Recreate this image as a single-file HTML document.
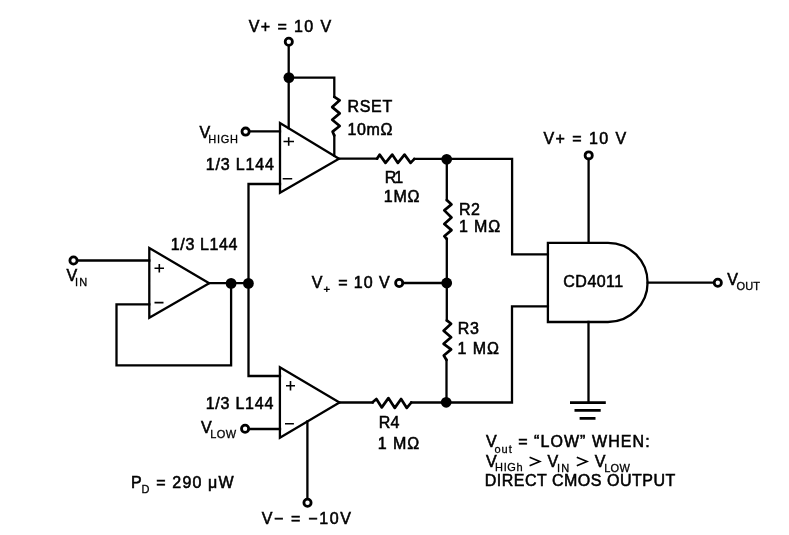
<!DOCTYPE html>
<html><head><meta charset="utf-8">
<style>
html,body{margin:0;padding:0;background:#fff;}
body{width:789px;height:535px;overflow:hidden;}
svg{display:block;will-change:transform;}
text{font-family:"Liberation Sans",sans-serif;fill:#000;stroke:#000;}
.w{fill:none;stroke:#000;stroke-width:2.3;stroke-linecap:square;stroke-linejoin:miter;}
.z{fill:none;stroke:#000;stroke-width:2.7;stroke-linecap:round;stroke-linejoin:round;}
.c{fill:#fff;stroke:#000;stroke-width:2.8;}
.d{fill:#000;}
.sg{fill:none;stroke:#000;stroke-width:1.6;}
</style></head>
<body>
<svg width="789" height="535" viewBox="0 0 789 535">

<circle class="c" cx="288.8" cy="41.7" r="3.6"/>
<path class="w" d="M288.7 45.3 V128.2 M288.7 77.6 H334.3 V96.8 M334.3 135.6 V155.5"/>
<circle class="d" cx="288.9" cy="77.6" r="5.4"/>
<path class="z" d="M334.3 96.8 L339.7 100.3 L332.2 107.1 L339.7 113.4 L332.2 119.7 L339.7 126 L332.6 131.6 L334.3 135.6"/>
<path class="w" d="M280 123 V192.8 L339 158.7 Z"/>
<path class="sg" d="M283.5 141.5 H294 M288.7 137.3 V145.7 M282.7 178.7 H292.2"/>
<circle class="c" cx="245.6" cy="131.6" r="3.6"/>
<path class="w" d="M249.4 131.4 H280 M280 184 H248.5 V376 H280"/>

<path class="w" d="M149.3 248 V317.8 L209.2 283.2 Z"/>
<path class="sg" d="M154.5 268.2 H164 M159.3 264 V272.4 M154.5 302.6 H163.5"/>
<circle class="c" cx="73.5" cy="260.5" r="3.6"/>
<path class="w" d="M77.3 260.5 H149.3 M149.3 304.4 H116.5 V365.4 H231.1 V283.2 M209.2 283.2 H248.5"/>
<circle class="d" cx="231.1" cy="283.4" r="5.4"/>
<circle class="d" cx="248.4" cy="283.4" r="5.4"/>

<path class="w" d="M279.9 367.2 V437.8 L339.5 402.5 Z"/>
<path class="sg" d="M286 385.7 H295 M290.5 381 V390.5 M285 423.7 H293.9"/>
<circle class="c" cx="245.1" cy="428.8" r="3.6"/>
<path class="w" d="M248.9 429 H280 M307.4 421.5 V498.9"/>
<circle class="c" cx="307.5" cy="502.8" r="3.6"/>

<path class="w" d="M339 158.7 H377 M414.4 158.9 H512.1 V254.3 H547.9"/>
<path class="z" d="M377 158.7 L379.6 154.6 L385.5 162.9 L392.2 154.6 L397.9 162.9 L404.5 154.6 L410.6 162.9 L414.4 158.9"/>
<circle class="d" cx="446.7" cy="159.3" r="5.4"/>
<path class="w" d="M446.8 159.3 V200 M446.8 239 V320.4 M446.5 360 V402.3"/>
<path class="z" d="M446.8 200 L451.5 204.4 L444.3 210.4 L451.5 217.5 L444.3 224 L451.5 230.1 L444.3 236.2 L446.8 239"/>
<path class="z" d="M446.8 320.4 L451.1 323.7 L443.6 330.7 L451.1 337.3 L443.6 343.8 L451.1 349.4 L443.8 355.5 L446.5 360"/>
<circle class="c" cx="399.2" cy="283" r="3.6"/>
<path class="w" d="M403 283 H446.7"/>
<circle class="d" cx="446.7" cy="283" r="5.4"/>
<path class="w" d="M339.5 402.5 H372.6 M411.3 402.5 H512 V306.4 H547.9"/>
<path class="z" d="M372.6 402.2 L376.4 399 L381.8 407.4 L388.4 398.1 L394.8 407.9 L401.1 399 L406.8 407.9 L411.3 402.5"/>
<circle class="d" cx="446.2" cy="402.3" r="5.4"/>
<path class="sg" style="stroke-width:1.3" d="M323.8 289.3 H329.8 M326.8 286.6 V292"/>

<path class="w" d="M547.9 242.8 H608 A39.6 39.6 0 0 1 608 322 H547.9 Z"/>
<circle class="c" cx="588.7" cy="155.4" r="3.6"/>
<path class="w" d="M588.6 159 V242.8 M588.5 322 V402.5 M647.6 282.7 H714.2"/>
<path class="w" style="stroke-width:2.8;stroke-linecap:butt" d="M570 402.7 H605.8 M574.5 410.4 H600.7 M579.6 418.3 H595.5"/>
<circle class="c" cx="717.8" cy="282.7" r="3.6"/>
<path class="sg" style="stroke-linecap:butt" d="M529.6 457.3 L539.8 461.6 L529.6 465.7 M576.8 457.3 L587 461.6 L576.8 465.7"/>

<text stroke-width="0.55" x="248.75" y="31.6" font-size="16" textLength="82.37" lengthAdjust="spacing">V+ = 10 V</text>
<text stroke-width="0.55" x="347.55" y="112.15" font-size="16" textLength="44.67" lengthAdjust="spacing">RSET</text>
<text stroke-width="0.55" x="347.55" y="134.55" font-size="16" textLength="44.84" lengthAdjust="spacing">10mΩ</text>
<text stroke-width="0.55" x="199.4" y="137.75" font-size="16">V</text>
<text stroke-width="0.3" x="208.3" y="143.28" font-size="11" textLength="29.55" lengthAdjust="spacing">HIGH</text>
<text stroke-width="0.55" x="205.65" y="170.28" font-size="16" textLength="68.38" lengthAdjust="spacing">1/3 L144</text>
<text stroke-width="0.55" x="170.75" y="250.42" font-size="16" textLength="66.78" lengthAdjust="spacing">1/3 L144</text>
<text stroke-width="0.55" x="66.4" y="280.75" font-size="16">V</text>
<text stroke-width="0.3" x="75.1" y="286.1" font-size="11" textLength="12.05" lengthAdjust="spacing">IN</text>
<text stroke-width="0.55" x="205.65" y="408.98" font-size="16" textLength="67.68" lengthAdjust="spacing">1/3 L144</text>
<text stroke-width="0.55" x="201.0" y="433.1" font-size="16">V</text>
<text stroke-width="0.3" x="210.2" y="437.92" font-size="11" textLength="25.86" lengthAdjust="spacing">LOW</text>
<text stroke-width="0.55" x="261.65" y="523.85" font-size="16" textLength="89.36" lengthAdjust="spacing">V− = −10V</text>
<text stroke-width="0.55" x="131.05" y="487.75" font-size="16">P</text>
<text stroke-width="0.3" x="141.5" y="492.55" font-size="11">D</text>
<text stroke-width="0.55" x="156.25" y="487.58" font-size="16" textLength="77.35" lengthAdjust="spacing">= 290 μW</text>
<text stroke-width="0.55" x="384.65" y="182.7" font-size="16" textLength="18.45" lengthAdjust="spacing">R1</text>
<text stroke-width="0.55" x="383.85" y="202.42" font-size="16" textLength="35.64" lengthAdjust="spacing">1MΩ</text>
<text stroke-width="0.55" x="458.95" y="214.52" font-size="16" textLength="20.85" lengthAdjust="spacing">R2</text>
<text stroke-width="0.55" x="458.95" y="232.42" font-size="16" textLength="41.19" lengthAdjust="spacing">1 MΩ</text>
<text stroke-width="0.55" x="457.85" y="334.3" font-size="16" textLength="21.15" lengthAdjust="spacing">R3</text>
<text stroke-width="0.55" x="457.45" y="354.22" font-size="16" textLength="41.44" lengthAdjust="spacing">1 MΩ</text>
<text stroke-width="0.55" x="311.65" y="287.9" font-size="16">V</text>
<text stroke-width="0.55" x="338.15" y="287.9" font-size="16" textLength="51.5" lengthAdjust="spacing">= 10 V</text>
<text stroke-width="0.55" x="378.75" y="428.3" font-size="16" textLength="20.65" lengthAdjust="spacing">R4</text>
<text stroke-width="0.55" x="377.85" y="448.82" font-size="16" textLength="41.49" lengthAdjust="spacing">1 MΩ</text>
<text stroke-width="0.55" x="563.35" y="286.6" font-size="16" textLength="59.82" lengthAdjust="spacing">CD4011</text>
<text stroke-width="0.55" x="543.5" y="144.3" font-size="16" textLength="82.62" lengthAdjust="spacing">V+ = 10 V</text>
<text stroke-width="0.55" x="727.2" y="285.1" font-size="16">V</text>
<text stroke-width="0.3" x="736.6" y="290.07" font-size="11" textLength="23.43" lengthAdjust="spacing">OUT</text>
<text stroke-width="0.55" x="486.0" y="446.95" font-size="16">V</text>
<text stroke-width="0.3" x="494.5" y="452.5" font-size="11" textLength="17.25" lengthAdjust="spacing">out</text>
<text stroke-width="0.55" x="518.15" y="446.75" font-size="16" textLength="131.47" lengthAdjust="spacing">= “LOW” WHEN:</text>
<text stroke-width="0.55" x="486.0" y="466.5" font-size="16">V</text>
<text stroke-width="0.3" x="495.1" y="471.42" font-size="11" textLength="27.49" lengthAdjust="spacing">HIGh</text>
<text stroke-width="0.55" x="547.4" y="466.9" font-size="16">V</text>
<text stroke-width="0.3" x="557.0" y="471.65" font-size="11" textLength="12.2" lengthAdjust="spacing">IN</text>
<text stroke-width="0.55" x="594.8" y="466.9" font-size="16">V</text>
<text stroke-width="0.3" x="604.2" y="471.65" font-size="11" textLength="25.66" lengthAdjust="spacing">LOW</text>
<text stroke-width="0.55" x="484.75" y="486.35" font-size="16" textLength="190.49" lengthAdjust="spacing">DIRECT CMOS OUTPUT</text>
</svg>
</body></html>
